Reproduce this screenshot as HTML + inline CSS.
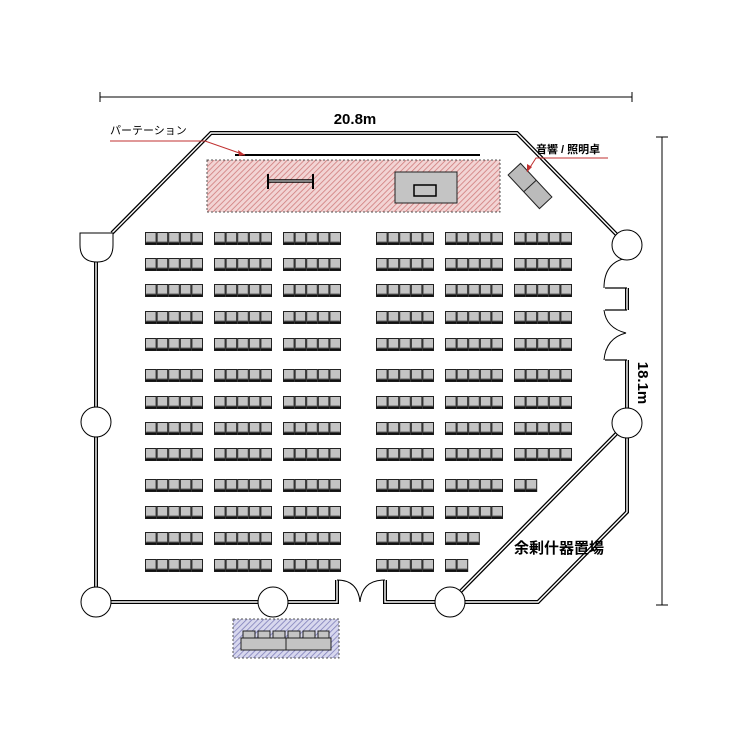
<!DOCTYPE html>
<html><head><meta charset="utf-8"><style>
html,body{margin:0;padding:0;background:#fff;}
svg{display:block;}
text{font-family:"Liberation Sans","Noto Sans CJK JP",sans-serif;}
</style></head><body>
<svg width="750" height="750" viewBox="0 0 750 750" xmlns="http://www.w3.org/2000/svg">
<defs>
<pattern id="hr" width="4" height="4" patternUnits="userSpaceOnUse" patternTransform="rotate(45)">
<rect width="4" height="4" fill="#f2d4d4"/><line x1="0" y1="0" x2="0" y2="4" stroke="#d07c7c" stroke-width="1.6"/></pattern>
<pattern id="hb" width="4" height="4" patternUnits="userSpaceOnUse" patternTransform="rotate(45)">
<rect width="4" height="4" fill="#d8d8ee"/><line x1="0" y1="0" x2="0" y2="4" stroke="#8080bb" stroke-width="1.6"/></pattern>
<g id="s">
<rect x="0.5" y="0.5" width="10.6" height="12" fill="#c4c4c4" stroke="#222" stroke-width="1"/>
<line x1="0.5" y1="11.5" x2="11.1" y2="11.5" stroke="#111" stroke-width="2"/>
<line x1="1.2" y1="10" x2="10.4" y2="10" stroke="#666" stroke-width="1"/>
</g>
<g id="b5"><use href="#s" x="0"/><use href="#s" x="11.6"/><use href="#s" x="23.2"/><use href="#s" x="34.8"/><use href="#s" x="46.4"/></g>
<g id="b3"><use href="#s" x="0"/><use href="#s" x="11.6"/><use href="#s" x="23.2"/></g>
<g id="b2"><use href="#s" x="0"/><use href="#s" x="11.6"/></g>
</defs>

<!-- dimension lines -->
<line x1="100" y1="97" x2="632" y2="97" stroke="#000" stroke-width="1"/>
<line x1="100" y1="92" x2="100" y2="102" stroke="#000"/>
<line x1="632" y1="92" x2="632" y2="102" stroke="#000"/>
<text x="355" y="124" font-size="15" font-weight="bold" text-anchor="middle">20.8m</text>
<line x1="662" y1="137" x2="662" y2="605" stroke="#000" stroke-width="1"/>
<line x1="656" y1="137" x2="668" y2="137" stroke="#000"/>
<line x1="656" y1="605" x2="668" y2="605" stroke="#000"/>
<text x="0" y="0" font-size="15" font-weight="bold" text-anchor="middle" transform="translate(638,383) rotate(90)">18.1m</text>

<!-- stage -->
<rect x="207" y="160" width="293" height="52" fill="url(#hr)" stroke="#555" stroke-width="1" stroke-dasharray="2,2"/>
<line x1="235" y1="155" x2="480" y2="155" stroke="#000" stroke-width="2"/>
<line x1="268" y1="181" x2="313" y2="181" stroke="#000" stroke-width="3.5"/>
<line x1="268" y1="181" x2="313" y2="181" stroke="#fff" stroke-width="1"/>
<line x1="268" y1="174" x2="268" y2="189" stroke="#000" stroke-width="2"/>
<line x1="313" y1="174" x2="313" y2="189" stroke="#000" stroke-width="2"/>
<rect x="395" y="172" width="62" height="31" fill="#c4c4c4" stroke="#222"/>
<rect x="414" y="185" width="22" height="11" fill="#c4c4c4" stroke="#000" stroke-width="1.5"/>

<!-- sound desk -->
<g transform="translate(530,186) rotate(47)">
<rect x="-23" y="-8.5" width="46" height="17" fill="#bbb" stroke="#222"/>
<line x1="0" y1="-8.5" x2="0" y2="8.5" stroke="#222"/>
</g>

<!-- walls -->
<g fill="none" stroke-linejoin="miter">
<path d="M96,600 L96,245 M112,233 L211,133 L517,133 L617,235 M627,260 L627,258 M627,288 L627,310 M627,360 L627,512 L538,602 L385,602 L385,580 M337,580 L337,602 L96,602 M617,433 L460,592" stroke="#000" stroke-width="4"/>
<path d="M96,600 L96,245 M112,233 L211,133 L517,133 L617,235 M627,288 L627,310 M627,360 L627,512 L538,602 L385,602 L385,580 M337,580 L337,602 L96,602 M617,433 L460,592" stroke="#fff" stroke-width="1.4"/>
<!-- right door jambs -->
<path d="M605,288 L627,288 M605,310 L627,310 M605,360 L627,360" stroke="#000" stroke-width="1.2"/>
<!-- door arcs -->
<path d="M627,258 Q604,262 604,288" stroke="#000" stroke-width="1"/>
<path d="M604,310 Q606,328 626,333 Q606,338 604,360" stroke="#000" stroke-width="1"/>
<path d="M337,580 Q358,580 360,602 Q362,580 385,580" stroke="#000" stroke-width="1"/>
</g>

<!-- posts -->
<path d="M80,233 L113,233 L113,245 Q113,262 97,262 Q80,262 80,245 Z" fill="#fff" stroke="#000" stroke-width="1"/>
<g fill="#fff" stroke="#000" stroke-width="1">
<circle cx="627" cy="245" r="15"/>
<circle cx="627" cy="423" r="15"/>
<circle cx="96" cy="422" r="15"/>
<circle cx="96" cy="602" r="15"/>
<circle cx="273" cy="602" r="15"/>
<circle cx="450" cy="602" r="15"/>
</g>

<!-- seats -->
<g>
<use href="#b5" x="145" y="232"/><use href="#b5" x="214" y="232"/><use href="#b5" x="283" y="232"/><use href="#b5" x="376" y="232"/><use href="#b5" x="445" y="232"/><use href="#b5" x="514" y="232"/>
<use href="#b5" x="145" y="258"/><use href="#b5" x="214" y="258"/><use href="#b5" x="283" y="258"/><use href="#b5" x="376" y="258"/><use href="#b5" x="445" y="258"/><use href="#b5" x="514" y="258"/>
<use href="#b5" x="145" y="284"/><use href="#b5" x="214" y="284"/><use href="#b5" x="283" y="284"/><use href="#b5" x="376" y="284"/><use href="#b5" x="445" y="284"/><use href="#b5" x="514" y="284"/>
<use href="#b5" x="145" y="311"/><use href="#b5" x="214" y="311"/><use href="#b5" x="283" y="311"/><use href="#b5" x="376" y="311"/><use href="#b5" x="445" y="311"/><use href="#b5" x="514" y="311"/>
<use href="#b5" x="145" y="338"/><use href="#b5" x="214" y="338"/><use href="#b5" x="283" y="338"/><use href="#b5" x="376" y="338"/><use href="#b5" x="445" y="338"/><use href="#b5" x="514" y="338"/>
<use href="#b5" x="145" y="369"/><use href="#b5" x="214" y="369"/><use href="#b5" x="283" y="369"/><use href="#b5" x="376" y="369"/><use href="#b5" x="445" y="369"/><use href="#b5" x="514" y="369"/>
<use href="#b5" x="145" y="396"/><use href="#b5" x="214" y="396"/><use href="#b5" x="283" y="396"/><use href="#b5" x="376" y="396"/><use href="#b5" x="445" y="396"/><use href="#b5" x="514" y="396"/>
<use href="#b5" x="145" y="422"/><use href="#b5" x="214" y="422"/><use href="#b5" x="283" y="422"/><use href="#b5" x="376" y="422"/><use href="#b5" x="445" y="422"/><use href="#b5" x="514" y="422"/>
<use href="#b5" x="145" y="448"/><use href="#b5" x="214" y="448"/><use href="#b5" x="283" y="448"/><use href="#b5" x="376" y="448"/><use href="#b5" x="445" y="448"/><use href="#b5" x="514" y="448"/>
<use href="#b5" x="145" y="479"/><use href="#b5" x="214" y="479"/><use href="#b5" x="283" y="479"/><use href="#b5" x="376" y="479"/><use href="#b5" x="445" y="479"/><use href="#b2" x="514" y="479"/>
<use href="#b5" x="145" y="506"/><use href="#b5" x="214" y="506"/><use href="#b5" x="283" y="506"/><use href="#b5" x="376" y="506"/><use href="#b5" x="445" y="506"/>
<use href="#b5" x="145" y="532"/><use href="#b5" x="214" y="532"/><use href="#b5" x="283" y="532"/><use href="#b5" x="376" y="532"/><use href="#b3" x="445" y="532"/>
<use href="#b5" x="145" y="559"/><use href="#b5" x="214" y="559"/><use href="#b5" x="283" y="559"/><use href="#b5" x="376" y="559"/><use href="#b2" x="445" y="559"/>
</g>

<!-- outside table -->
<rect x="233" y="619" width="106" height="39" fill="url(#hb)" stroke="#555" stroke-width="1" stroke-dasharray="2,2"/>
<g fill="#c4c4c4" stroke="#222" stroke-width="1">
<rect x="243" y="631" width="12" height="7"/><rect x="258" y="631" width="12" height="7"/><rect x="273" y="631" width="12" height="7"/>
<rect x="288" y="631" width="12" height="7"/><rect x="303" y="631" width="12" height="7"/><rect x="318" y="631" width="11" height="7"/>
<rect x="241" y="638" width="45" height="12"/><rect x="286" y="638" width="45" height="12"/>
</g>

<!-- labels -->
<text x="110" y="134" font-size="11">パーテーション</text>
<path d="M110,141 L205,141 L245,155" fill="none" stroke="#c03030" stroke-width="1"/>
<path d="M245,155 L238,150 L239,156 Z" fill="#c03030"/>
<text x="536" y="153" font-size="11" font-weight="bold">音響 / 照明卓</text>
<path d="M608,158 L536,158 L527,172" fill="none" stroke="#c03030" stroke-width="1"/>
<path d="M527,172 L527,164 L532,167 Z" fill="#c03030"/>
<text x="514" y="553" font-size="15" font-weight="bold">余剰什器置場</text>
</svg>
</body></html>
